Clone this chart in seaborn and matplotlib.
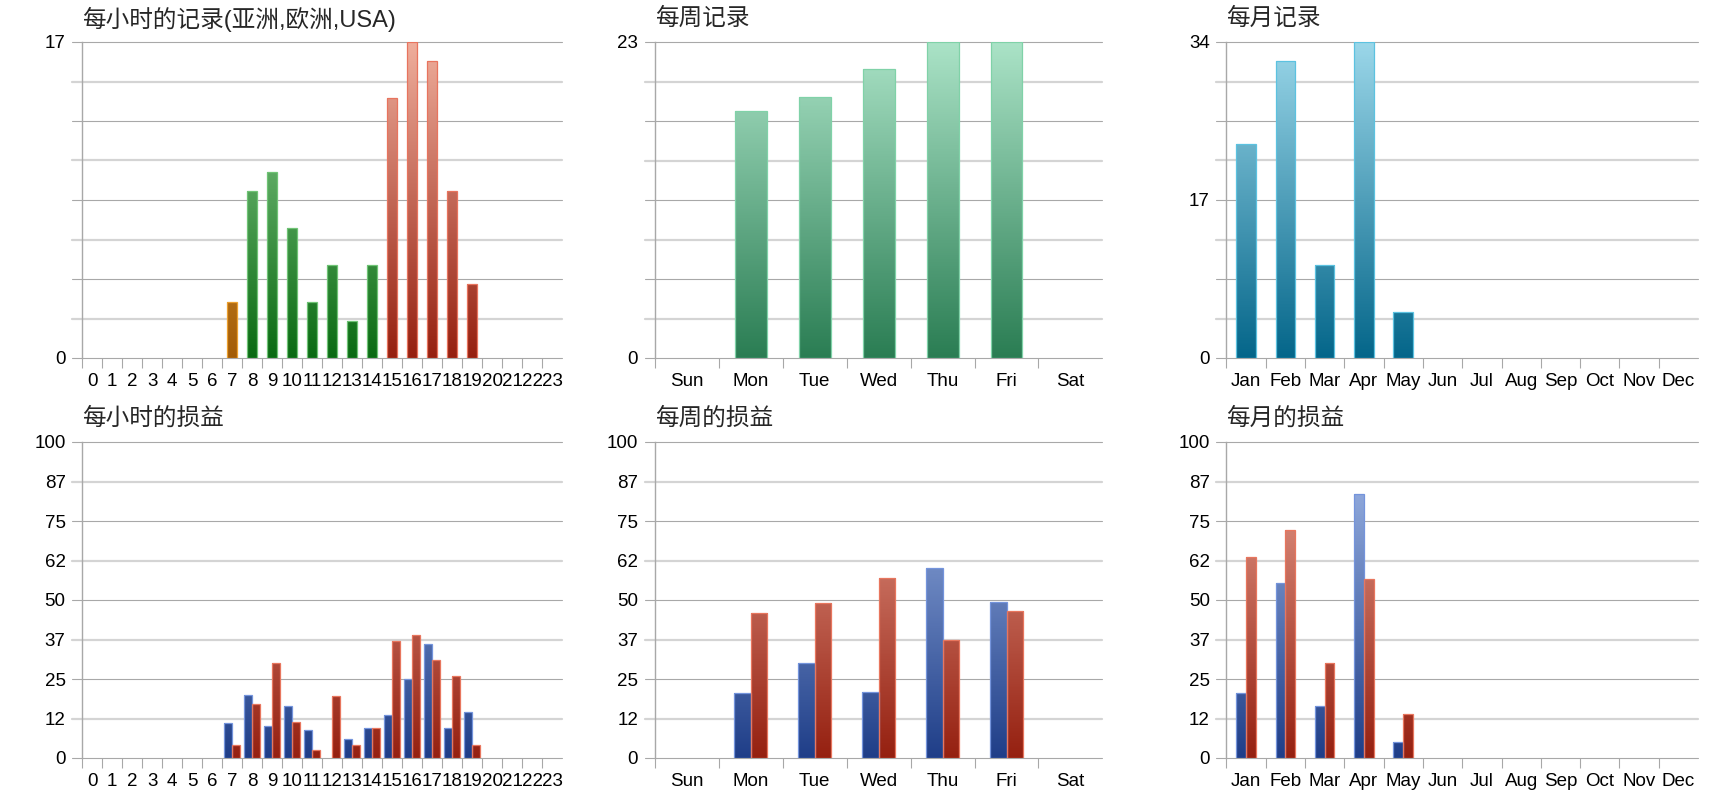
import numpy as np
import pandas as pd
import matplotlib
matplotlib.use("Agg")
import matplotlib.pyplot as plt
from matplotlib.colors import LinearSegmentedColormap
import seaborn as sns

# ---------------- data ----------------
hours = [str(h) for h in range(24)]
hour_records = [0, 0, 0, 0, 0, 0, 0, 3, 9, 10, 7, 3, 5, 2, 5, 14, 17, 16, 9, 4, 0, 0, 0, 0]
hour_region = ["亚洲"] * 8 + ["欧洲"] * 7 + ["USA"] * 9
hour_profit_a = [0, 0, 0, 0, 0, 0, 0, 11, 20, 10, 16.5, 9, 0, 6, 9.5, 13.5, 25, 36, 9.5, 14.5, 0, 0, 0, 0]
hour_profit_b = [0, 0, 0, 0, 0, 0, 0, 4, 17, 30, 11.5, 2.5, 19.5, 4, 9.5, 37, 39, 31, 26, 4, 0, 0, 0, 0]

days = ["Sun", "Mon", "Tue", "Wed", "Thu", "Fri", "Sat"]
day_records = [0, 18, 19, 21, 23, 23, 0]
day_profit_a = [0, 20.5, 30, 21, 60, 49.5, 0]
day_profit_b = [0, 46, 49, 57, 37.5, 46.5, 0]

months = ["Jan", "Feb", "Mar", "Apr", "May", "Jun", "Jul", "Aug", "Sep", "Oct", "Nov", "Dec"]
month_records = [23, 32, 10, 34, 5, 0, 0, 0, 0, 0, 0, 0]
month_profit_a = [20.5, 55.5, 16.5, 83.5, 5, 0, 0, 0, 0, 0, 0, 0]
month_profit_b = [63.5, 72, 30, 56.5, 14, 0, 0, 0, 0, 0, 0, 0]

titles = ["每小时的记录(亚洲,欧洲,USA)", "每周记录", "每月记录",
          "每小时的损益", "每周的损益", "每月的损益"]

hour_rec_max, day_rec_max, month_rec_max, profit_max = 17, 23, 34, 100
hour_rec_ticks = [0, 17]
day_rec_ticks = [0, 23]
month_rec_ticks = [0, 17, 34]
profit_tick_labels = ["0", "12", "25", "37", "50", "62", "75", "87", "100"]

# ---------------- style ----------------
sns.set_style("white")
plt.rcParams["font.family"] = ["Liberation Sans", "Noto Sans CJK SC", "DejaVu Sans"]

DPI = 100
fig = plt.figure(figsize=(17.2, 8.0), dpi=DPI)
fig.patch.set_facecolor("white")

cols = [(82.3, 480.0), (654.9, 447.5), (1226.4, 471.6)]
rows = [(42.0, 316.0), (442.0, 316.0)]
axes = {}
for r, (top, h) in enumerate(rows):
    for c, (left, w) in enumerate(cols):
        ax = fig.add_axes([left / 1720, 1 - (top + h) / 800, w / 1720, h / 800])
        axes[(r, c)] = ax

def cm(lo, hi):
    return LinearSegmentedColormap.from_list("g", [lo, hi])

cmaps = {
    "亚洲": (cm("#a35c06", "#f2b450"), "#eca030"),
    "欧洲": (cm("#0a6a12", "#96d69a"), "#70c476"),
    "USA": (cm("#952010", "#efae9c"), "#e8745e"),
    "week": (cm("#2a7d53", "#abe3c7"), "#80d2a8"),
    "month": (cm("#04668a", "#9bd7e9"), "#5cc2e0"),
    "A": (cm("#1f3e88", "#a3bbea"), "#7494dc"),
    "B": (cm("#952010", "#eaa494"), "#e8765e"),
}

GRID_DARK = "#a8a8a8"
GRID_LIGHT = "#d4d4d4"
LABEL_SIZE = 13.5

def gradient_bar(ax, patch, key, ymax):
    cmap, edge = cmaps[key]
    x0, w, h = patch.get_x(), patch.get_width(), patch.get_height()
    if h <= 0:
        patch.set_visible(False)
        return
    vals = np.linspace(0, h / ymax, 400).reshape(-1, 1)
    im = ax.imshow(vals, cmap=cmap, vmin=0, vmax=1, extent=[x0, x0 + w, 0, h],
                   origin="lower", aspect="auto", interpolation="nearest", zorder=2)
    im.set_clip_path(patch)
    patch.set_facecolor("none")
    patch.set_edgecolor(edge)
    patch.set_linewidth(0.9)
    patch.set_zorder(3)

def style_axes(ax, cats, ymax, ytick_pos, ytick_lab, title, w_px):
    n = len(cats)
    ax.set_xlim(-0.5, n - 0.5)
    ax.set_ylim(0, ymax)
    for s in ["top", "right", "bottom"]:
        ax.spines[s].set_visible(False)
    ax.spines["left"].set_color(GRID_DARK)
    ax.spines["left"].set_linewidth(1.0)
    for k in range(9):
        y = ymax * k / 8
        dark = (k % 2 == 0)
        ax.axhline(y, xmin=-10 / w_px, xmax=1, clip_on=False,
                   color=GRID_DARK if dark else GRID_LIGHT,
                   lw=0.8 if dark else 1.6, zorder=1)
    ax.set_xticks(range(n))
    ax.set_xticklabels(cats)
    ax.set_xticks([i - 0.5 for i in range(n)], minor=True)
    ax.tick_params(axis="x", which="major", length=0, pad=10.5, labelsize=LABEL_SIZE, colors="black")
    ax.tick_params(axis="x", which="minor", length=7.2, width=0.8, color=GRID_DARK, direction="out", bottom=True)
    ax.set_yticks(ytick_pos)
    ax.set_yticklabels(ytick_lab)
    ax.tick_params(axis="y", length=0, pad=12, labelsize=LABEL_SIZE, colors="black")
    ax.set_xlabel("")
    ax.set_ylabel("")
    ax.text(0, 1 + 23 / 316, title, transform=ax.transAxes, ha="left", va="center",
            fontsize=17, family=["Liberation Sans", "Noto Sans CJK SC"])

# ---- hourly records ----
ax = axes[(0, 0)]
df = pd.DataFrame({"x": hours, "v": hour_records, "region": hour_region})
sns.barplot(data=df, x="x", y="v", hue="region", order=hours, hue_order=["亚洲", "欧洲", "USA"],
            dodge=False, width=0.5, errorbar=None, legend=False, ax=ax)
for p in list(ax.patches):
    idx = int(round(p.get_x() + p.get_width() / 2))
    gradient_bar(ax, p, hour_region[idx], hour_rec_max)
style_axes(ax, hours, hour_rec_max, hour_rec_ticks, [str(t) for t in hour_rec_ticks], titles[0], 480.0)

# ---- weekly records ----
ax = axes[(0, 1)]
df = pd.DataFrame({"x": days, "v": day_records})
sns.barplot(data=df, x="x", y="v", order=days, width=0.5, errorbar=None, ax=ax)
for p in list(ax.patches):
    gradient_bar(ax, p, "week", day_rec_max)
style_axes(ax, days, day_rec_max, day_rec_ticks, [str(t) for t in day_rec_ticks], titles[1], 447.5)

# ---- monthly records ----
ax = axes[(0, 2)]
df = pd.DataFrame({"x": months, "v": month_records})
sns.barplot(data=df, x="x", y="v", order=months, width=0.5, errorbar=None, ax=ax)
for p in list(ax.patches):
    gradient_bar(ax, p, "month", month_rec_max)
style_axes(ax, months, month_rec_max, month_rec_ticks, [str(t) for t in month_rec_ticks], titles[2], 471.6)

# ---- grouped profit charts ----
def profit_chart(ax, cats, a, b, width, title, w_px):
    df = pd.DataFrame({"x": cats * 2, "v": list(a) + list(b),
                       "s": ["A"] * len(cats) + ["B"] * len(cats)})
    sns.barplot(data=df, x="x", y="v", hue="s", order=cats, hue_order=["A", "B"],
                dodge=True, width=width, errorbar=None, legend=False, ax=ax)
    for p in list(ax.patches):
        cx = p.get_x() + p.get_width() / 2
        key = "A" if cx < round(cx) else "B"
        gradient_bar(ax, p, key, profit_max)
    style_axes(ax, cats, profit_max, list(np.linspace(0, profit_max, 9)),
               profit_tick_labels, title, w_px)

profit_chart(axes[(1, 0)], hours, hour_profit_a, hour_profit_b, 0.78, titles[3], 480.0)
profit_chart(axes[(1, 1)], days, day_profit_a, day_profit_b, 0.52, titles[4], 447.5)
profit_chart(axes[(1, 2)], months, month_profit_a, month_profit_b, 0.5, titles[5], 471.6)

fig.savefig("out.png", dpi=DPI, facecolor="white")
